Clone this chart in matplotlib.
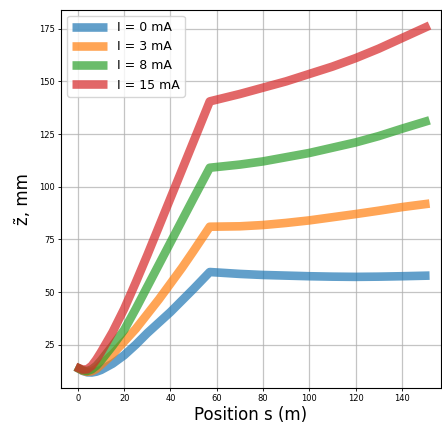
import matplotlib
matplotlib.use('Agg')
import matplotlib.pyplot as plt

# position along the line (m)
s = [-1, 2, 4, 6, 8, 10, 15, 20, 25, 30, 35, 40, 45, 50, 57,
     70, 80, 90, 100, 110, 120, 130, 140, 152]

z_0mA = [14.5, 12.6, 11.9, 11.8, 12.2, 13.0, 16.0, 20.0, 25.0, 30.5, 35.5,
         40.5, 46.0, 51.5, 59.5,
         58.6, 58.1, 57.8, 57.5, 57.3, 57.2, 57.3, 57.5, 57.8]
z_3mA = [14.5, 12.7, 12.1, 12.4, 13.5, 15.5, 20.5, 26.5, 32.5, 39.5, 46.5,
         54.0, 61.5, 69.5, 81.0,
         81.2, 81.8, 82.8, 84.0, 85.5, 87.0, 88.6, 90.3, 92.0]
z_8mA = [14.5, 12.9, 12.5, 13.3, 15.0, 17.5, 24.5, 32.0, 42.0, 52.5, 63.0,
         73.5, 84.0, 94.5, 109.0,
         110.5, 112.0, 114.0, 116.0, 118.5, 121.0, 124.0, 127.5, 131.5]
z_15mA = [14.5, 13.2, 13.3, 15.0, 18.0, 21.5, 31.0, 42.0, 54.5, 67.5, 81.0,
          94.5, 108.0, 121.5, 140.5,
          144.0, 147.0, 150.0, 153.5, 157.0, 161.0, 165.5, 170.5, 176.5]

labels = ['I = 0 mA', 'I = 3 mA', 'I = 8 mA', 'I = 15 mA']
colors = ['tab:blue', 'tab:orange', 'tab:green', 'tab:red']

fig = plt.figure(figsize=(4.42, 4.23), dpi=100)
ax = fig.add_axes([0.138, 0.083, 0.86, 0.894])

for z, lab, col in zip([z_0mA, z_3mA, z_8mA, z_15mA], labels, colors):
    ax.plot(s, z, color=col, lw=6.2, alpha=0.7, label=lab,
            solid_capstyle='butt')

ax.set_xlim(-7.3, 157)
ax.set_ylim(4.5, 184)
ax.grid(True, color='#b0b0b0', alpha=0.75, linewidth=0.9)
ax.set_xticks([0, 20, 40, 60, 80, 100, 120, 140])
ax.set_yticks([25, 50, 75, 100, 125, 150, 175])
ax.tick_params(labelsize=6, length=2.5, width=0.6, pad=2)
ax.set_xlabel('Position s (m)', fontsize=12, labelpad=2)
ax.set_ylabel('z\u0303, mm', fontsize=12, labelpad=5)
ax.legend(loc='upper left', fontsize=9, handlelength=2.8)

fig.savefig('out.png', dpi=100)
